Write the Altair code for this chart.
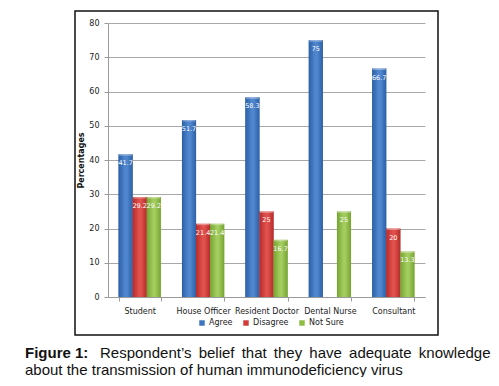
import altair as alt
import pandas as pd

categories = ["Student", "House Officer", "Resident Doctor", "Dental Nurse", "Consultant"]
responses = ["Agree", "Disagree", "Not Sure"]
agree = [41.7, 51.7, 58.3, 75, 66.7]
disagree = [29.2, 21.4, 25, None, 20]
not_sure = [29.2, 21.4, 16.7, 25, 13.3]
colors = ["#3f74be", "#d13c3a", "#8fbd44"]
edge_colors = ["#2c5fa6", "#b32b2a", "#76a332"]
center_colors = ["#4f86cd", "#e0504c", "#a2cc5e"]

rows = []
for i, c in enumerate(categories):
    for r, vals in zip(responses, [agree, disagree, not_sure]):
        v = vals[i]
        if v is not None:
            rows.append({"Category": c, "Response": r, "Value": v, "Label": f"{v:g}"})
df = pd.DataFrame(rows)
one = pd.DataFrame({"k": [0]})

FONT = "DejaVu Sans"
CAP = "Liberation Sans"

x_axis = alt.Axis(title=None, labelAngle=0, labelFontSize=8, labelFont=FONT,
                  labelColor="#222", domainColor="#9a9a9a", tickColor="#9a9a9a",
                  tickBand="extent", tickSize=4, labelPadding=6, grid=False)
y_axis = alt.Axis(title="Percentages", titleFont=FONT, titleFontSize=8, titleFontWeight="bold",
                  titleColor="#111", titlePadding=3, values=list(range(0, 81, 10)),
                  labelFontSize=8, labelFont=FONT, labelColor="#222", tickSize=4,
                  tickColor="#9a9a9a", domainColor="#9a9a9a", gridColor="#a8a8a8",
                  labelPadding=5, labelOverlap=False)

x_enc = alt.X("Category:N", sort=categories,
              scale=alt.Scale(paddingInner=1/3, paddingOuter=1/6), axis=x_axis)
xoff = alt.XOffset("Response:N", sort=responses,
                   scale=alt.Scale(domain=responses, paddingInner=0, paddingOuter=0))
y_enc = alt.Y("Value:Q", scale=alt.Scale(domain=[0, 80]), axis=y_axis)

bars = alt.Chart(df).mark_bar().encode(
    x=x_enc, xOffset=xoff, y=y_enc,
    color=alt.Color("Response:N", sort=responses,
                    scale=alt.Scale(domain=responses, range=colors),
                    legend=alt.Legend(title=None, orient="none", direction="horizontal",
                                      legendX=90, legendY=296, symbolType="square",
                                      symbolSize=30, symbolStrokeWidth=0, labelFont=FONT,
                                      labelFontSize=8, labelColor="#222", columnPadding=9,
                                      symbolOffset=0, labelOffset=3))
)

grad_layers = []
for r, ec, cc in zip(responses, edge_colors, center_colors):
    grad = alt.LinearGradient(
        gradient="linear", x1=0, x2=1, y1=0, y2=0,
        stops=[alt.GradientStop(color=ec, offset=0),
               alt.GradientStop(color=cc, offset=0.45),
               alt.GradientStop(color=cc, offset=0.6),
               alt.GradientStop(color=ec, offset=1)])
    grad_layers.append(
        alt.Chart(df).transform_filter(alt.datum.Response == r).mark_bar(fill=grad).encode(
            x=alt.X("Category:N", sort=categories, axis=x_axis),
            xOffset=alt.XOffset("Response:N", sort=responses),
            y=alt.Y("Value:Q", axis=y_axis)
        )
    )

caps = alt.Chart(df).mark_tick(color="white", opacity=0.35, thickness=3, size=13).encode(
    x=alt.X("Category:N", sort=categories, axis=x_axis),
    xOffset=alt.XOffset("Response:N", sort=responses),
    y=alt.Y("Value:Q", axis=y_axis)
)

labels = alt.Chart(df).mark_text(color="white", font=FONT, fontSize=6.5, dy=9, baseline="middle").encode(
    x=alt.X("Category:N", sort=categories, axis=x_axis),
    xOffset=alt.XOffset("Response:N", sort=responses),
    y=alt.Y("Value:Q", axis=y_axis), text="Label:N"
)

frame = alt.Chart(one).mark_rect(fill="transparent", stroke="#111", strokeWidth=1.5).encode(
    x=alt.value(-33), x2=alt.value(330), y=alt.value(-12), y2=alt.value(312)
)

caption1 = alt.Chart(one).mark_text(align="left", baseline="alphabetic", font=CAP,
                                     fontSize=15, fontWeight="bold", color="#111").encode(
    x=alt.value(-83), y=alt.value(335), text=alt.value("Figure 1:")
)
g = " \u2009"
caption2 = alt.Chart(one).mark_text(align="left", baseline="alphabetic", font=CAP,
                                     fontSize=15, color="#111").encode(
    x=alt.value(-8), y=alt.value(335),
    text=alt.value(g.join(["Respondent\u2019s", "belief", "that", "they", "have", "adequate", "knowledge"]))
)
caption3 = alt.Chart(one).mark_text(align="left", baseline="alphabetic", font=CAP,
                                     fontSize=15, color="#111").encode(
    x=alt.value(-83), y=alt.value(352),
    text=alt.value("about the transmission of human immunodeficiency virus")
)

chart = alt.layer(bars, *grad_layers, caps, labels, frame, caption1, caption2, caption3).properties(
    width=317, height=274,
    autosize=alt.AutoSizeParams(type="none"),
    padding={"left": 100, "top": 15, "right": 66, "bottom": 80},
    background="white",
).configure_view(stroke=None)

chart.save("out.html", embed_options={"renderer": "svg", "actions": False})
